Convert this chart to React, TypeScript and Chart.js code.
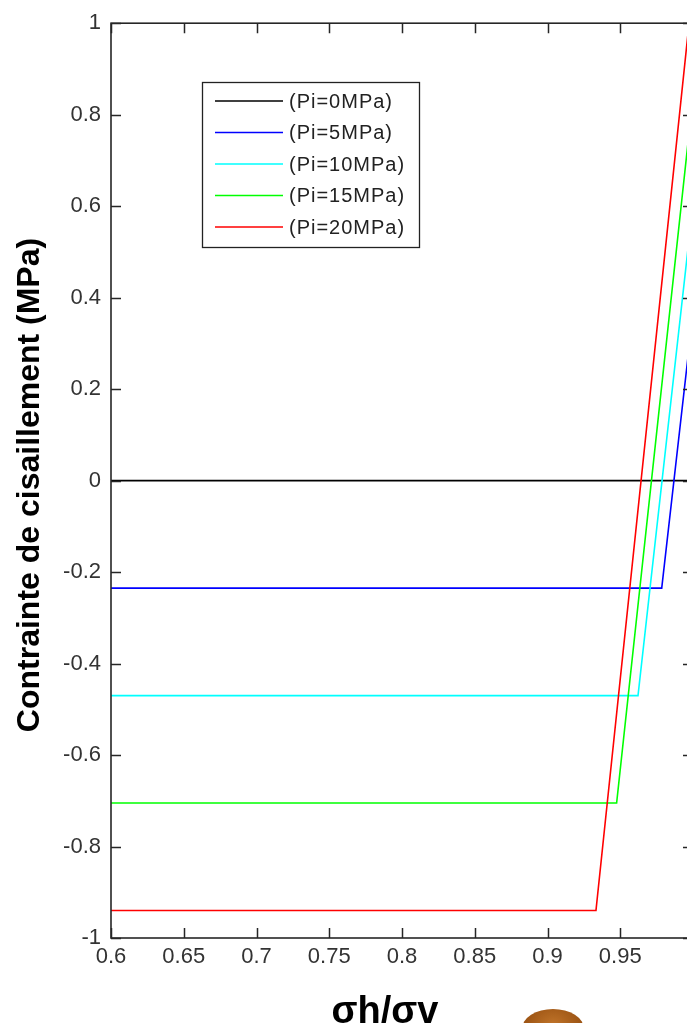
import React, { useEffect, useRef } from 'react';
import { Chart, registerables } from 'chart.js';

Chart.register(...registerables);

// ---- Data ----
const xTickValues = [0.6, 0.65, 0.7, 0.75, 0.8, 0.85, 0.9, 0.95, 1];
const yTickValues = [-1, -0.8, -0.6, -0.4, -0.2, 0, 0.2, 0.4, 0.6, 0.8, 1];

const seriesLabels = ['(Pi=0MPa)', '(Pi=5MPa)', '(Pi=10MPa)', '(Pi=15MPa)', '(Pi=20MPa)'];
const seriesColors = ['#000000', '#0000ff', '#00ffff', '#00ff00', '#ff0000'];

const pi0X = [0.6, 1.0];
const pi0Y = [0, 0];
const pi5X = [0.6, 0.9785, 1.0];
const pi5Y = [-0.235, -0.235, 0.367];
const pi10X = [0.6, 0.9622, 1.0];
const pi10Y = [-0.47, -0.47, 0.605];
const pi15X = [0.6, 0.9475, 1.0];
const pi15Y = [-0.705, -0.705, 0.84];
const pi20X = [0.6, 0.9333, 1.0];
const pi20Y = [-0.94, -0.94, 1.082];

const seriesX = [pi0X, pi5X, pi10X, pi15X, pi20X];
const seriesY = [pi0Y, pi5Y, pi10Y, pi15Y, pi20Y];

const xTitle = 'σh/σv';
const yTitle = 'Contrainte de cisaillement (MPa)';

const fmt = (v: number) => String(Number(v.toFixed(2)));

const framePlugin = {
  id: 'matlabFrame',
  afterDraw(chart: any) {
    const { ctx, chartArea } = chart;
    const { left, right, top, bottom } = chartArea;
    const xs = chart.scales.x;
    const ys = chart.scales.y;
    ctx.save();
    // box
    ctx.strokeStyle = '#262626';
    ctx.lineWidth = 1.6;
    ctx.strokeRect(left, top, right - left, bottom - top);
    // inward ticks
    ctx.beginPath();
    const tl = 10;
    for (const v of xTickValues) {
      const px = Math.round(xs.getPixelForValue(v)) + 0.5;
      ctx.moveTo(px, bottom);
      ctx.lineTo(px, bottom - tl);
      ctx.moveTo(px, top);
      ctx.lineTo(px, top + tl);
    }
    for (const v of yTickValues) {
      const py = Math.round(ys.getPixelForValue(v)) + 0.5;
      ctx.moveTo(left, py);
      ctx.lineTo(left + tl, py);
      ctx.moveTo(right, py);
      ctx.lineTo(right - tl, py);
    }
    ctx.lineWidth = 1.5;
    ctx.stroke();

    // legend
    const lx = 202.5, ly = 82.5, lw = 217, lh = 165;
    ctx.fillStyle = '#ffffff';
    ctx.fillRect(lx, ly, lw, lh);
    ctx.strokeStyle = '#222';
    ctx.lineWidth = 1.3;
    ctx.strokeRect(lx, ly, lw, lh);
    ctx.font = '20px "Liberation Sans", Arial, sans-serif';
    try {
      (ctx as any).letterSpacing = '1px';
    } catch (e) {}
    ctx.textBaseline = 'middle';
    ctx.textAlign = 'left';
    seriesLabels.forEach((lab, i) => {
      const yy = 101 + i * 31.5;
      ctx.beginPath();
      ctx.strokeStyle = seriesColors[i];
      ctx.lineWidth = 1.5;
      ctx.moveTo(215, yy);
      ctx.lineTo(283, yy);
      ctx.stroke();
      ctx.fillStyle = '#222';
      ctx.fillText(lab, 289, yy + 1);
    });
    try {
      (ctx as any).letterSpacing = '0px';
    } catch (e) {}

    // titles
    ctx.fillStyle = '#000';
    ctx.font = 'bold 32px "Liberation Sans", Arial, sans-serif';
    ctx.textAlign = 'center';
    ctx.textBaseline = 'middle';
    ctx.save();
    ctx.translate(30, 485);
    ctx.rotate(-Math.PI / 2);
    ctx.fillText(yTitle, 0, 0);
    ctx.restore();

    ctx.font = 'bold 38px "Liberation Sans", Arial, sans-serif';
    ctx.textBaseline = 'alphabetic';
    ctx.fillText(xTitle, 385, 1023);
    ctx.restore();
  },
};

function App() {
  const ref = useRef<HTMLCanvasElement | null>(null);
  useEffect(() => {
    if (!ref.current) return;
    const datasets = seriesLabels.map((label, i) => ({
      label,
      data: seriesX[i].map((x, j) => ({ x, y: seriesY[i][j] })),
      borderColor: seriesColors[i],
      backgroundColor: seriesColors[i],
      borderWidth: 1.6,
      pointRadius: 0,
      tension: 0,
      fill: false,
      order: seriesLabels.length - i,
    }));
    const tickFont = { family: '"Liberation Sans", Arial, sans-serif', size: 22 };
    const chart = new Chart(ref.current, {
      type: 'line',
      data: { datasets },
      plugins: [framePlugin],
      options: {
        animation: false,
        responsive: false,
        maintainAspectRatio: false,
        layout: { padding: { left: 0, right: 27, top: 19, bottom: 0 } },
        plugins: { legend: { display: false }, tooltip: { enabled: false } },
        scales: {
          x: {
            type: 'linear',
            min: 0.6,
            max: 1,
            afterBuildTicks: (s: any) => {
              s.ticks = xTickValues.map((v) => ({ value: v }));
            },
            afterFit: (s: any) => {
              s.height = 85;
            },
            grid: { display: false, drawTicks: false },
            border: { display: false },
            ticks: {
              font: tickFont,
              color: '#333',
              padding: 6,
              maxRotation: 0,
              autoSkip: false,
              callback: (v: any) => fmt(Number(v)),
            },
          },
          y: {
            type: 'linear',
            min: -1,
            max: 1,
            afterBuildTicks: (s: any) => {
              s.ticks = yTickValues.map((v) => ({ value: v }));
            },
            afterFit: (s: any) => {
              s.width = 111;
            },
            grid: { display: false, drawTicks: false },
            border: { display: false },
            ticks: {
              font: tickFont,
              color: '#333',
              padding: 10,
              autoSkip: false,
              callback: (v: any) => fmt(Number(v)),
            },
          },
        },
      },
    });
    return () => chart.destroy();
  }, []);

  return (
    <div
      style={{
        position: 'absolute',
        left: 0,
        top: 0,
        width: 687,
        height: 1023,
        overflow: 'hidden',
        background: '#fff',
      }}
    >
      <canvas ref={ref} width={720} height={1023} style={{ display: 'block' }} />
      <div
        style={{
          position: 'absolute',
          left: 522,
          top: 1009,
          width: 62,
          height: 40,
          borderRadius: '50%',
          background: 'radial-gradient(ellipse at 50% 40%, #c0742a 0%, #9a5212 70%, #7a3e0c 100%)',
        }}
      />
    </div>
  );
}

export default App;
